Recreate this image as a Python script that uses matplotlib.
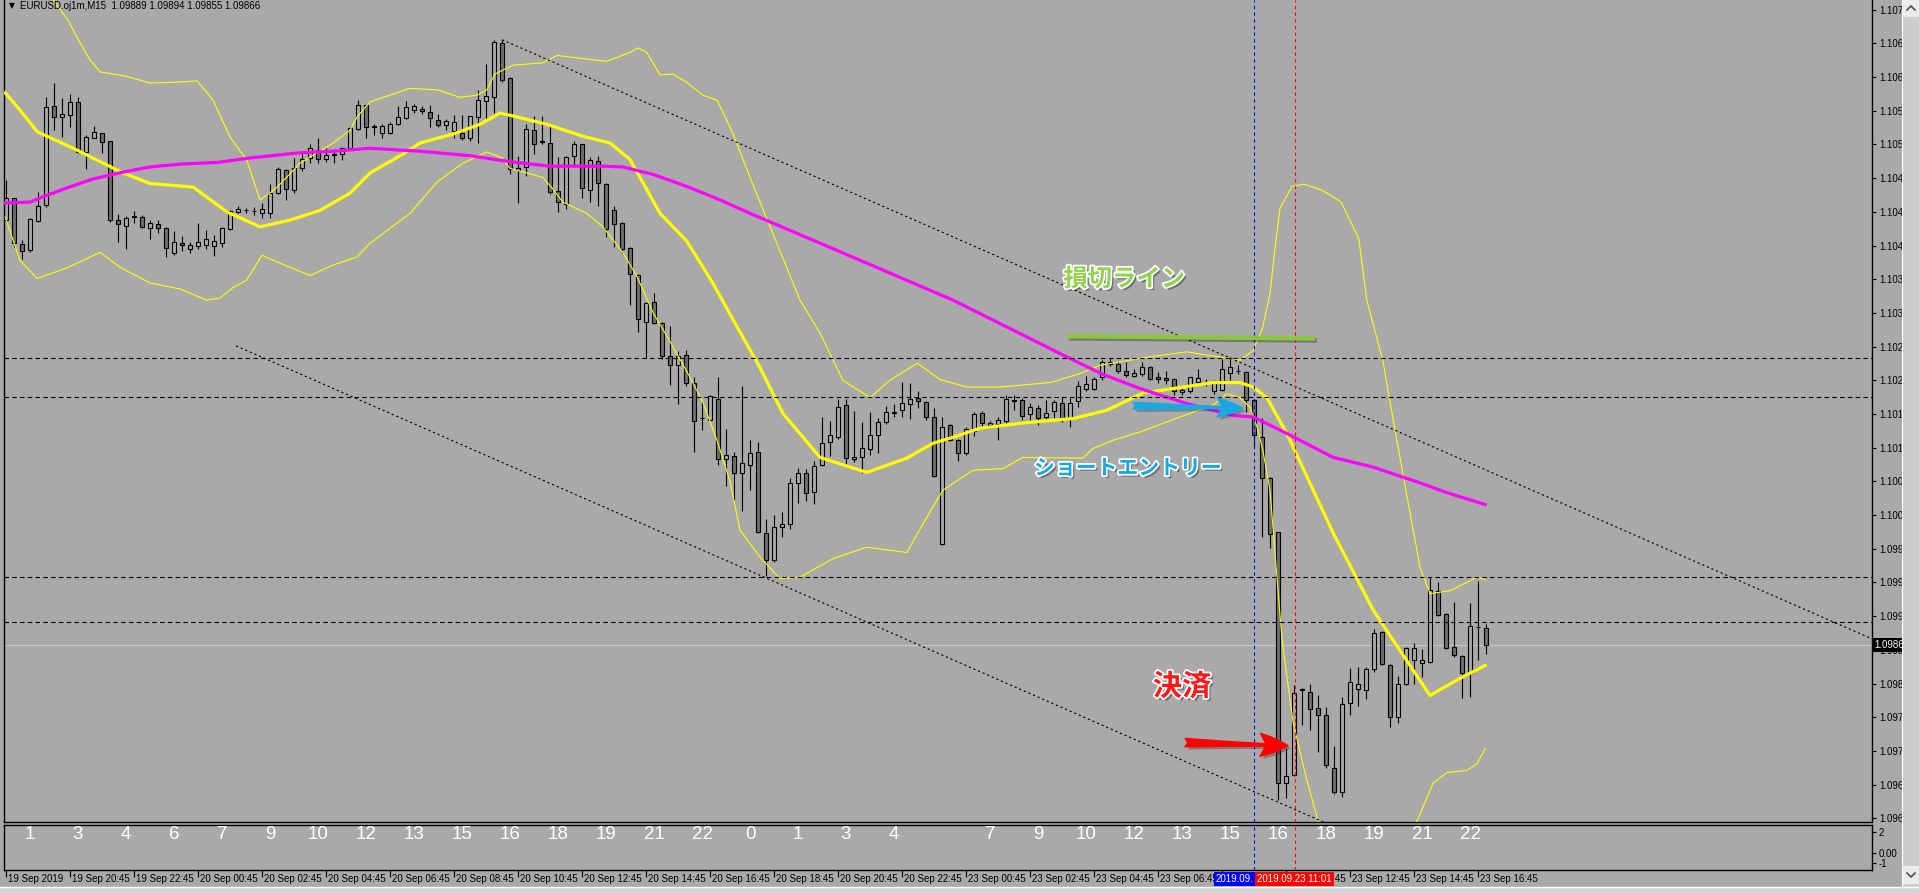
import matplotlib
matplotlib.use("Agg")
import matplotlib.pyplot as plt
import matplotlib.patheffects as pe
from matplotlib.patches import Rectangle, FancyArrowPatch, ArrowStyle
from matplotlib.transforms import blended_transform_factory, offset_copy, Bbox

plt.rcParams['font.family'] = ['Liberation Sans', 'DejaVu Sans']

W, H, DPI = 1919, 893, 100
BG = "#A9A9A9"
BEAR = "#6E6E6E"
JP = ['Noto Sans CJK JP', 'DejaVu Sans']

# EURUSD M15 candles, index 0 = 19 Sep 18:45 (server time)
opens = [1.10434, 1.10463, 1.10402, 1.10394, 1.10433, 1.10454, 1.10586, 1.10572, 1.10574, 1.10592,
         1.10525, 1.10544, 1.10550, 1.10540, 1.10434, 1.10426, 1.10438, 1.10438, 1.10423, 1.10429,
         1.10423, 1.10390, 1.10403, 1.10395, 1.10399, 1.10401, 1.10399, 1.10403, 1.10422, 1.10445,
         1.10447, 1.10446, 1.10444, 1.10444, 1.10470, 1.10501, 1.10474, 1.10504, 1.10517, 1.10528,
         1.10516, 1.10521, 1.10522, 1.10530, 1.10556, 1.10588, 1.10560, 1.10551, 1.10550, 1.10563,
         1.10571, 1.10581, 1.10582, 1.10579, 1.10568, 1.10561, 1.10553, 1.10551, 1.10543, 1.10572,
         1.10593, 1.10599, 1.10671, 1.10624, 1.10501, 1.10505, 1.10555, 1.10539, 1.10537, 1.10473,
         1.10456, 1.10519, 1.10535, 1.10474, 1.10513, 1.10482, 1.10448, 1.10430, 1.10397, 1.10361,
         1.10298, 1.10325, 1.10297, 1.10253, 1.10240, 1.10254, 1.10217, 1.10170, 1.10167, 1.10195,
         1.10115, 1.10119, 1.10096, 1.10107, 1.10124, 1.10016, 1.09980, 1.10024, 1.10028, 1.10083,
         1.10096, 1.10071, 1.10107, 1.10138, 1.10144, 1.10187, 1.10115, 1.10118, 1.10128, 1.10147,
         1.10164, 1.10176, 1.10180, 1.10188, 1.10196, 1.10191, 1.10171, 1.10001, 1.10160, 1.10140,
         1.10123, 1.10152, 1.10176, 1.10160, 1.10162, 1.10166, 1.10194, 1.10194, 1.10175, 1.10183,
         1.10171, 1.10179, 1.10190, 1.10170, 1.10192, 1.10208, 1.10208, 1.10225, 1.10242, 1.10242,
         1.10232, 1.10226, 1.10228, 1.10238, 1.10224, 1.10223, 1.10222, 1.10204, 1.10206, 1.10218,
         1.10218, 1.10206, 1.10207, 1.10230, 1.10232, 1.10231, 1.10194, 1.10144, 1.10090, 1.10017,
         1.09682, 1.09693, 1.09807, 1.09803, 1.09782, 1.09773, 1.09702, 1.09670, 1.09789, 1.09807,
         1.09806, 1.09835, 1.09884, 1.09840, 1.09770, 1.09815, 1.09846, 1.09842, 1.09844, 1.09938,
         1.09908, 1.09864, 1.09852, 1.09829, 1.09890, 1.09889]
highs = [1.10487, 1.10463, 1.10407, 1.10437, 1.10471, 1.10598, 1.10617, 1.10597, 1.10602, 1.10598,
         1.10548, 1.10560, 1.10550, 1.10540, 1.10442, 1.10439, 1.10446, 1.10441, 1.10434, 1.10434,
         1.10425, 1.10419, 1.10413, 1.10405, 1.10430, 1.10421, 1.10414, 1.10425, 1.10448, 1.10453,
         1.10450, 1.10452, 1.10457, 1.10482, 1.10505, 1.10502, 1.10517, 1.10524, 1.10536, 1.10543,
         1.10530, 1.10528, 1.10532, 1.10559, 1.10595, 1.10588, 1.10562, 1.10562, 1.10565, 1.10587,
         1.10593, 1.10589, 1.10586, 1.10588, 1.10576, 1.10569, 1.10575, 1.10575, 1.10573, 1.10608,
         1.10643, 1.10675, 1.10675, 1.10625, 1.10520, 1.10563, 1.10573, 1.10573, 1.10561, 1.10518,
         1.10519, 1.10540, 1.10536, 1.10518, 1.10520, 1.10484, 1.10453, 1.10431, 1.10398, 1.10362,
         1.10324, 1.10337, 1.10298, 1.10293, 1.10259, 1.10261, 1.10224, 1.10191, 1.10200, 1.10224,
         1.10155, 1.10124, 1.10212, 1.10140, 1.10138, 1.10035, 1.10040, 1.10044, 1.10090, 1.10103,
         1.10102, 1.10112, 1.10171, 1.10166, 1.10195, 1.10195, 1.10179, 1.10164, 1.10178, 1.10170,
         1.10186, 1.10188, 1.10218, 1.10216, 1.10206, 1.10192, 1.10183, 1.10171, 1.10161, 1.10141,
         1.10158, 1.10178, 1.10179, 1.10166, 1.10171, 1.10200, 1.10200, 1.10196, 1.10190, 1.10187,
         1.10194, 1.10194, 1.10198, 1.10196, 1.10219, 1.10226, 1.10225, 1.10247, 1.10250, 1.10246,
         1.10245, 1.10235, 1.10245, 1.10239, 1.10231, 1.10232, 1.10223, 1.10210, 1.10225, 1.10235,
         1.10222, 1.10220, 1.10249, 1.10251, 1.10240, 1.10232, 1.10195, 1.10170, 1.10091, 1.10018,
         1.09729, 1.09813, 1.09809, 1.09815, 1.09799, 1.09783, 1.09732, 1.09797, 1.09836, 1.09837,
         1.09837, 1.09888, 1.09885, 1.09841, 1.09825, 1.09864, 1.09869, 1.09861, 1.09957, 1.09950,
         1.09909, 1.09924, 1.09853, 1.09922, 1.09952, 1.09894]
lows = [1.10431, 1.10398, 1.10382, 1.10391, 1.10431, 1.10451, 1.10554, 1.10545, 1.10558, 1.10523,
        1.10502, 1.10544, 1.10523, 1.10431, 1.10405, 1.10395, 1.10430, 1.10423, 1.10409, 1.10417,
        1.10385, 1.10387, 1.10393, 1.10390, 1.10395, 1.10395, 1.10386, 1.10398, 1.10421, 1.10444,
        1.10444, 1.10441, 1.10437, 1.10437, 1.10469, 1.10461, 1.10470, 1.10500, 1.10510, 1.10510,
        1.10512, 1.10510, 1.10514, 1.10529, 1.10554, 1.10544, 1.10548, 1.10544, 1.10549, 1.10561,
        1.10569, 1.10577, 1.10576, 1.10559, 1.10559, 1.10554, 1.10544, 1.10541, 1.10540, 1.10537,
        1.10571, 1.10577, 1.10618, 1.10496, 1.10457, 1.10493, 1.10522, 1.10535, 1.10469, 1.10445,
        1.10449, 1.10507, 1.10463, 1.10458, 1.10453, 1.10412, 1.10398, 1.10390, 1.10321, 1.10285,
        1.10250, 1.10295, 1.10249, 1.10214, 1.10188, 1.10212, 1.10124, 1.10154, 1.10166, 1.10107,
        1.10079, 1.10060, 1.10045, 1.10073, 1.10016, 1.09959, 1.09977, 1.10011, 1.10021, 1.10056,
        1.10059, 1.10055, 1.10105, 1.10119, 1.10142, 1.10107, 1.10111, 1.10096, 1.10120, 1.10123,
        1.10162, 1.10171, 1.10171, 1.10168, 1.10183, 1.10167, 1.10091, 1.10000, 1.10139, 1.10112,
        1.10120, 1.10146, 1.10158, 1.10156, 1.10140, 1.10160, 1.10180, 1.10167, 1.10167, 1.10160,
        1.10167, 1.10170, 1.10164, 1.10158, 1.10184, 1.10206, 1.10207, 1.10221, 1.10239, 1.10230,
        1.10224, 1.10224, 1.10226, 1.10220, 1.10216, 1.10215, 1.10200, 1.10200, 1.10203, 1.10216,
        1.10212, 1.10202, 1.10206, 1.10220, 1.10228, 1.10178, 1.10131, 1.10011, 1.09996, 1.09659,
        1.09662, 1.09691, 1.09759, 1.09753, 1.09723, 1.09702, 1.09668, 1.09663, 1.09773, 1.09785,
        1.09794, 1.09831, 1.09840, 1.09757, 1.09762, 1.09813, 1.09815, 1.09824, 1.09842, 1.09905,
        1.09861, 1.09850, 1.09796, 1.09797, 1.09846, 1.09855]
closes = [1.10463, 1.10403, 1.10393, 1.10435, 1.10453, 1.10585, 1.10572, 1.10576, 1.10592, 1.10525,
          1.10545, 1.10552, 1.10538, 1.10434, 1.10429, 1.10437, 1.10439, 1.10425, 1.10430, 1.10423,
          1.10397, 1.10405, 1.10401, 1.10401, 1.10405, 1.10409, 1.10406, 1.10423, 1.10446, 1.10449,
          1.10447, 1.10446, 1.10449, 1.10470, 1.10502, 1.10476, 1.10504, 1.10516, 1.10530, 1.10516,
          1.10521, 1.10522, 1.10530, 1.10557, 1.10588, 1.10559, 1.10559, 1.10560, 1.10563, 1.10572,
          1.10585, 1.10587, 1.10580, 1.10571, 1.10561, 1.10567, 1.10565, 1.10544, 1.10573, 1.10595,
          1.10600, 1.10672, 1.10621, 1.10502, 1.10504, 1.10556, 1.10536, 1.10538, 1.10471, 1.10458,
          1.10518, 1.10536, 1.10477, 1.10514, 1.10483, 1.10422, 1.10429, 1.10396, 1.10362, 1.10302,
          1.10323, 1.10297, 1.10253, 1.10241, 1.10253, 1.10217, 1.10166, 1.10169, 1.10199, 1.10115,
          1.10120, 1.10096, 1.10110, 1.10123, 1.10017, 1.09980, 1.10024, 1.10028, 1.10083, 1.10096,
          1.10069, 1.10105, 1.10136, 1.10147, 1.10184, 1.10116, 1.10118, 1.10130, 1.10147, 1.10164,
          1.10178, 1.10178, 1.10190, 1.10195, 1.10192, 1.10171, 1.10092, 1.10158, 1.10140, 1.10123,
          1.10155, 1.10175, 1.10163, 1.10163, 1.10167, 1.10195, 1.10193, 1.10172, 1.10184, 1.10170,
          1.10176, 1.10191, 1.10168, 1.10190, 1.10212, 1.10215, 1.10222, 1.10245, 1.10245, 1.10232,
          1.10227, 1.10230, 1.10238, 1.10222, 1.10222, 1.10220, 1.10206, 1.10207, 1.10224, 1.10223,
          1.10216, 1.10219, 1.10235, 1.10238, 1.10233, 1.10194, 1.10147, 1.10090, 1.10015, 1.09682,
          1.09691, 1.09802, 1.09806, 1.09781, 1.09773, 1.09706, 1.09670, 1.09787, 1.09817, 1.09815,
          1.09834, 1.09882, 1.09841, 1.09770, 1.09815, 1.09862, 1.09862, 1.09847, 1.09940, 1.09906,
          1.09862, 1.09853, 1.09829, 1.09892, 1.09891, 1.09866]

# indicator lines as (bar index, price)
bb_upper = [(3, 1.1078), (5.9, 1.10728), (7.75, 1.10701), (9.25, 1.10671), (10.5, 1.10648), (11.75, 1.10632),
            (15.1, 1.10626), (18.0, 1.10617), (20.9, 1.10618), (23.9, 1.10620), (25.9, 1.10594), (28.0, 1.10545),
            (30.1, 1.10514), (31.75, 1.10461), (32.6, 1.10467), (33.9, 1.10478), (36.75, 1.10510), (40.9, 1.10537),
            (43.0, 1.10554), (43.9, 1.10572), (45.5, 1.10592), (50.5, 1.10610), (53.9, 1.10608), (56.75, 1.10598),
            (58.9, 1.10601), (60.1, 1.10608), (61.1, 1.10629), (63.4, 1.10641), (67.1, 1.10644), (68.9, 1.10654),
            (72.6, 1.10649), (75.1, 1.10646), (78.0, 1.10658), (79.0, 1.10664), (80.1, 1.10658), (81.75, 1.10628),
            (83.4, 1.10629), (85.1, 1.10618), (87.1, 1.10601), (88.9, 1.10594), (90.9, 1.10549), (93.0, 1.10491),
            (99.25, 1.10327), (101.75, 1.10283), (104.6, 1.10220), (108.0, 1.10197), (110.5, 1.10220),
            (113.9, 1.10243), (116.75, 1.10221), (120.1, 1.10211), (124.25, 1.10211), (130.5, 1.10217),
            (134.25, 1.10229), (136.75, 1.10240), (142.1, 1.10250), (147.6, 1.10258), (151.75, 1.10251),
            (154.25, 1.10247), (155.9, 1.10260), (157.1, 1.10291), (158.0, 1.10336), (158.6, 1.10394),
            (159.25, 1.10450), (160.75, 1.10479), (162.25, 1.10482), (164.5, 1.10474), (166.9, 1.10458),
            (169.1, 1.10409), (170.1, 1.10327), (172.1, 1.10247), (173.4, 1.10167), (174.6, 1.10096),
            (176.75, 1.09970), (178.0, 1.09935), (180.5, 1.09939), (183.9, 1.09957), (184.9, 1.09954)]
bb_middle = [(-0.1, 1.10604), (1.75, 1.10581), (3.9, 1.10552), (8.0, 1.10532), (10.1, 1.10521), (14.6, 1.10497),
             (18.0, 1.10483), (23.4, 1.10478), (27.6, 1.10445), (31.75, 1.10425), (35.5, 1.10434),
             (39.25, 1.10447), (43.0, 1.10470), (45.5, 1.10497), (49.6, 1.10522), (51.75, 1.10537),
             (55.9, 1.10549), (59.25, 1.10562), (61.75, 1.10577), (63.4, 1.10573), (67.6, 1.10562),
             (72.1, 1.10546), (75.5, 1.10537), (78.0, 1.10515), (81.75, 1.10443), (85.1, 1.10406),
             (88.4, 1.10349), (91.4, 1.10291), (94.25, 1.10237), (97.1, 1.10176), (101.75, 1.10117),
             (107.6, 1.10097), (112.6, 1.10116), (115.9, 1.10136), (118.4, 1.10144), (121.75, 1.10156),
             (127.1, 1.10163), (133.4, 1.10169), (137.6, 1.10180), (142.1, 1.10203), (145.9, 1.10209),
             (150.9, 1.10217), (154.25, 1.10217), (155.9, 1.10211), (157.6, 1.10197), (160.1, 1.10149),
             (165.9, 1.10016), (170.9, 1.09913), (174.25, 1.09859), (178.0, 1.09799), (181.75, 1.09822),
             (184.9, 1.09839)]
bb_lower = [(-0.1, 1.10438), (1.75, 1.10380), (3.9, 1.10356), (7.6, 1.10370), (11.75, 1.10391), (14.25, 1.10371),
            (18.0, 1.10350), (21.75, 1.10342), (25.1, 1.10327), (26.75, 1.10330), (28.4, 1.10344), (30.1, 1.10354),
            (32.0, 1.10387), (33.9, 1.10378), (38.0, 1.10360), (40.9, 1.10374), (43.9, 1.10385), (45.5, 1.10403),
            (50.5, 1.10443), (53.9, 1.10485), (57.1, 1.10510), (60.1, 1.10525), (62.0, 1.10517), (63.0, 1.10503),
            (65.1, 1.10497), (67.1, 1.10491), (68.25, 1.10477), (69.6, 1.10458), (72.6, 1.10443), (74.6, 1.10425),
            (77.1, 1.10391), (78.9, 1.10358), (80.9, 1.10310), (83.0, 1.10272), (85.5, 1.10224), (87.1, 1.10191),
            (88.9, 1.10139), (90.5, 1.10085), (91.75, 1.10020), (94.25, 1.09984), (96.75, 1.09955),
            (99.25, 1.09957), (103.4, 1.09982), (107.6, 1.09997), (112.6, 1.09990), (115.1, 1.10037),
            (117.1, 1.10073), (120.9, 1.10100), (124.6, 1.10102), (127.1, 1.10117), (134.6, 1.10116),
            (135.9, 1.10129), (138.4, 1.10140), (141.75, 1.10151), (146.75, 1.10171), (150.9, 1.10187),
            (152.6, 1.10202), (154.25, 1.10197), (155.5, 1.10184), (156.4, 1.10157), (157.1, 1.10127),
            (158.0, 1.10073), (159.5, 1.09873), (160.9, 1.09762), (162.6, 1.09686), (164.0, 1.09632),
            (170.0, 1.09500), (176.4, 1.09632), (178.4, 1.09682), (180.1, 1.09696), (182.6, 1.09699),
            (183.9, 1.09708), (184.9, 1.09728)]
ma_line = [(-0.1, 1.10457), (3.0, 1.10458), (4.6, 1.10465), (7.6, 1.10477), (10.9, 1.10489), (14.6, 1.10498),
           (18.0, 1.10505), (22.1, 1.10509), (26.4, 1.10511), (30.5, 1.10517), (36.75, 1.10524), (40.9, 1.10526),
           (45.5, 1.10530), (51.75, 1.10526), (58.0, 1.10520), (63.0, 1.10512), (68.0, 1.10506), (74.6, 1.10506),
           (77.1, 1.10505), (80.9, 1.10495), (85.1, 1.10479), (89.25, 1.10461), (93.0, 1.10443),
           (106.4, 1.10382), (118.4, 1.10327), (133.4, 1.10247), (137.1, 1.10228), (141.75, 1.10209),
           (147.6, 1.10189), (153.4, 1.10173), (155.9, 1.10171), (160.1, 1.10149), (165.9, 1.10117),
           (170.9, 1.10104), (176.75, 1.10083), (180.1, 1.10070), (184.9, 1.10054)]

h_levels = [1.10250, 1.10198, 1.09957, 1.09897]
trend_upper = [(62, 1.10675), (178.4, 1.10131)]
trend_lower = [(28.75, 1.10266), (95, 1.09956)]
entry_bar, exit_bar = 156, 161.07
last_price = 1.09866

price_ticks = [1.10715 - 0.00045 * i for i in range(25)]
time_bars = list(range(0, 185, 8))
time_labels = ["19 Sep 2019", "19 Sep 20:45", "19 Sep 22:45", "20 Sep 00:45", "20 Sep 02:45", "20 Sep 04:45",
               "20 Sep 06:45", "20 Sep 08:45", "20 Sep 10:45", "20 Sep 12:45", "20 Sep 14:45", "20 Sep 16:45",
               "20 Sep 18:45", "20 Sep 20:45", "20 Sep 22:45", "23 Sep 00:45", "23 Sep 02:45", "23 Sep 04:45",
               "23 Sep 06:45", "23 Sep 08:45", "23 Sep 10:45", "23 Sep 12:45", "23 Sep 14:45", "23 Sep 16:45"]
hidden_bar, clipped_bar = 152, 160   # labels lying under the line labels
hour_bars = [3 + 6 * j for j in range(31) if j != 19]
hour_labels = ["1", "3", "4", "6", "7", "9", "10", "12", "13", "15", "16", "18", "19", "21", "22", "0", "1", "3", "4",
               "7", "9", "10", "12", "13", "15", "16", "18", "19", "21", "22"]


def fx(px):
    return px / W


def fy(py):
    return 1 - py / H


fig = plt.figure(figsize=(W / DPI, H / DPI), dpi=DPI, facecolor=BG)
ax = fig.add_axes([fx(4), fy(822), fx(1872) - fx(4), 822 / H])
sub = fig.add_axes([fx(4), fy(870), fx(1872) - fx(4), 45 / H])
XLIM = (-0.25, 233.25)
for a in (ax, sub):
    a.set_facecolor(BG)
    a.set_xlim(*XLIM)
    for s in a.spines.values():
        s.set_color("black")
        s.set_linewidth(1)
ax.spines["top"].set_visible(False)
ax.set_ylim(1.09630, 1.10728)

# candles
idx = list(range(len(opens)))
face = [BG if c >= o else BEAR for o, c in zip(opens, closes)]
bottoms = [min(o, c) for o, c in zip(opens, closes)]
heights = [max(abs(c - o), 0.000003) for o, c in zip(opens, closes)]
ax.vlines(idx, lows, highs, color="black", lw=0.8, zorder=2)
ax.bar(idx, heights, bottom=bottoms, width=0.55, color=face, edgecolor="black", linewidth=0.8, zorder=2.5)

# indicators
for pts, lw in ((bb_upper, 0.8), (bb_lower, 0.8), (bb_middle, 2.3)):
    ax.plot([p[0] for p in pts], [p[1] for p in pts], color="#FFFF00", lw=lw, zorder=3)
ax.plot([p[0] for p in ma_line], [p[1] for p in ma_line], color="#FF00FF", lw=2.3, zorder=3)

# objects
for lvl in h_levels:
    ax.axhline(lvl, color="black", lw=0.8, ls=(0, (4, 3)), zorder=4)
for (k1, p1), (k2, p2) in (trend_upper, trend_lower):
    slope = (p2 - p1) / (k2 - k1)
    ax.plot([k1, XLIM[1]], [p1, p1 + slope * (XLIM[1] - k1)], color="black", lw=0.8, ls=(0, (2, 2.5)), zorder=4)
ax.axhline(last_price, color="#C8C8C8", lw=0.8, zorder=1.5)
for a in (ax, sub):
    a.axvline(entry_bar, color="#0000FF", lw=0.8, ls=(0, (3, 3)), zorder=4)
    a.axvline(exit_bar, color="#FF0000", lw=0.8, ls=(0, (3, 3)), zorder=4)

# price scale
ax.yaxis.tick_right()
ax.set_yticks(price_ticks)
ax.set_yticklabels([f"{p:.5f}" for p in price_ticks])
ax.tick_params(axis="y", direction="out", length=3, width=0.8, pad=2, labelsize=7, colors="black")
ax.set_xticks([])
ax.text(1.0, last_price, f"{last_price:.5f}", transform=offset_copy(
    blended_transform_factory(ax.transAxes, ax.transData), fig=fig, x=2, y=0, units="dots"),
    ha="left", va="center", fontsize=7, color="white", zorder=6, clip_on=False,
    bbox=dict(boxstyle="square,pad=0.2", fc="black", ec="none"))

# sub window
sub.set_ylim(-1.62, 2.67)
sub.yaxis.tick_right()
sub.set_yticks([2, 0, -1])
sub.set_yticklabels(["2", "0.00", "-1"])
sub.tick_params(axis="y", direction="out", length=3, width=0.8, pad=2, labelsize=7)
sub.set_xticks(time_bars)
sub.tick_params(axis="x", direction="out", length=5, width=0.8, labelbottom=False)
for k, lab in zip(hour_bars, hour_labels):
    sub.text(k, 0.78, lab, transform=blended_transform_factory(sub.transData, sub.transAxes),
             ha="center", va="center", color="white", fontsize=13.5,
             family=["Liberation Sans Narrow", "Liberation Sans"])

# time scale; the two line labels cover what lies under them
tr_time = offset_copy(blended_transform_factory(sub.transData, fig.transFigure), fig=fig, x=2, y=0, units="dots")
red_right = 1334
for k, lab in zip(time_bars, time_labels):
    if k == hidden_bar:
        continue
    t = sub.text(k, fy(879), lab, transform=tr_time, ha="left", va="center", fontsize=7)
    if k == clipped_bar:
        t.set_clip_box(Bbox.from_extents(red_right, 0, W, H))
        t.set_clip_on(True)
    else:
        t.set_clip_on(False)
tr_blue = offset_copy(blended_transform_factory(sub.transData, fig.transFigure), fig=fig, x=-38, y=0, units="dots")
sub.text(entry_bar, fy(879), "2019.09.", transform=tr_blue, ha="left", va="center", fontsize=7,
         color="white", zorder=7, bbox=dict(boxstyle="square,pad=0.2", fc="#0000FF", ec="none"))
sub.text(exit_bar, fy(879), "2019.09.23 11:01", transform=blended_transform_factory(sub.transData, fig.transFigure),
         ha="center", va="center", fontsize=7, color="white", zorder=8,
         bbox=dict(boxstyle="square,pad=0.2", fc="#FF0000", ec="none"))

# title
fig.text(fx(9), fy(6), "\u25bc", fontsize=5.5, ha="left", va="center", family="DejaVu Sans")
fig.text(fx(20), fy(6), "EURUSD.oj1m,M15  1.09889 1.09894 1.09855 1.09866", fontsize=7, ha="left", va="center")

# annotations drawn on the chart
shadow_txt = [pe.SimplePatchShadow(offset=(2, -2), shadow_rgbFace="black", alpha=0.35),
              pe.withStroke(linewidth=2.5, foreground="white")]
ax.text(139.75, 1.10355, "損切ライン", fontsize=17.5, fontweight="bold", color="#93D150", family=JP,
        ha="center", va="center", zorder=9, path_effects=shadow_txt)
ax.text(140.25, 1.10103, "ショートエントリー", fontsize=15, fontweight="bold", color="#17A8E3", family=JP,
        ha="center", va="center", zorder=9, path_effects=shadow_txt)
ax.text(147, 1.09811, "決済", fontsize=21, fontweight="bold", color="#FF1A1A", family=JP,
        ha="center", va="center", zorder=9, path_effects=shadow_txt)
ax.plot([132.6, 163.6], [1.10279, 1.10276], color="#8CC63F", lw=3.3, solid_capstyle="butt", zorder=9,
        path_effects=[pe.SimpleLineShadow(offset=(1.5, -1.5), alpha=0.3), pe.Normal()])
for (a, b, col, hl, hw, tw) in (((140.9, 1.10186), (154.6, 1.10183), "#1BA8E0", 18.5, 14, 5),
                                ((147.4, 1.09736), (160.25, 1.09732), "#FF0000", 20, 16.5, 6)):
    arr = FancyArrowPatch(a, b, arrowstyle=ArrowStyle.Fancy(head_length=hl, head_width=hw, tail_width=tw),
                          mutation_scale=1, color=col, shrinkA=0, shrinkB=0, zorder=9,
                          path_effects=[pe.SimplePatchShadow(offset=(2, -2), alpha=0.3), pe.Normal()])
    ax.add_patch(arr)

# window chrome: scroll bars
fig.patches.append(Rectangle((fx(1903), 0), fx(1919) - fx(1903), 1, transform=fig.transFigure,
                             fc="#CDCDCD", ec="none", zorder=10))
fig.patches.append(Rectangle((fx(1903), fy(17)), fx(1919) - fx(1903), 17 / H, transform=fig.transFigure,
                             fc="#EBEBEB", ec="none", zorder=11))
fig.patches.append(Rectangle((fx(1903), fy(884)), fx(1919) - fx(1903), 18 / H, transform=fig.transFigure,
                             fc="#EBEBEB", ec="none", zorder=11))
fig.patches.append(Rectangle((0, 0), 1, 6 / H, transform=fig.transFigure, fc="#D4D4D4", ec="none", zorder=10))
fig.lines.append(plt.Line2D([0, 1], [fy(887), fy(887)], transform=fig.transFigure, color="white", lw=1, zorder=11))
fig.lines.append(plt.Line2D([fx(1902), fx(1902)], [fy(887), 1], transform=fig.transFigure, color="white", lw=0.8,
                            zorder=11))
fig.lines.append(plt.Line2D([fx(1907), fx(1911), fx(1915)], [fy(10), fy(6), fy(10)], transform=fig.transFigure,
                            color="#505050", lw=1.2, zorder=12))
fig.lines.append(plt.Line2D([fx(1907), fx(1911), fx(1915)], [fy(873), fy(877), fy(873)], transform=fig.transFigure,
                            color="#505050", lw=1.2, zorder=12))

fig.savefig("out.png", dpi=DPI, facecolor=BG)
